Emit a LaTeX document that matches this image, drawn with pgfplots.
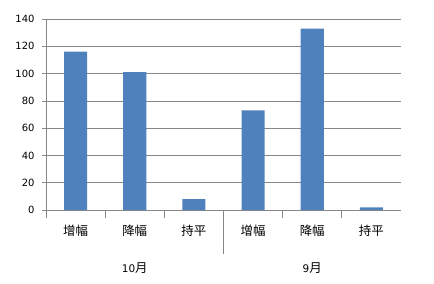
\documentclass[border=0pt]{standalone}
\usepackage{fontspec}
\setmainfont{DejaVu Sans}
\newfontfamily\cjk{Noto Sans CJK SC}
\usepackage{pgfplots}
\pgfplotsset{compat=1.18}
\definecolor{barblue}{HTML}{4F81BD}
\definecolor{gridgray}{HTML}{878787}
\begin{document}
\begin{tikzpicture}
\useasboundingbox (-46bp,-74bp) rectangle (388bp,210bp);
\begin{axis}[
  at={(0,0)}, anchor=south west,
  scale only axis, width=355bp, height=191bp,
  xmin=-0.5, xmax=5.5, ymin=0, ymax=140,
  clip=false,
  axis x line*=bottom, axis y line*=left,
  axis line style={gridgray, line width=0.7bp},
  ymajorgrids, grid style={gridgray, line width=0.7bp},
  ytick={0,20,...,140},
  y tick style={gridgray, line width=0.7bp},
  ytick align=outside, major tick length=4bp,
  /pgf/number format/assume math mode=true,
  yticklabel style={font=\fontsize{10}{12}\selectfont, xshift=-4bp},
  xtick={0,...,5},
  xticklabels={增幅,降幅,持平,增幅,降幅,持平},
  x tick style={draw=none},
  xticklabel style={font=\cjk\fontsize{12.5}{14}\selectfont, anchor=center, yshift=-21bp},
]
\addplot[ybar, fill=barblue, draw=none, bar width=0.39]
  coordinates {(0,116) (1,101) (2,8) (3,73) (4,133) (5,2)};
% category separators below the axis
\foreach \s in {-0.5,0.5,1.5,3.5,4.5}{
  \edef\tmp{\noexpand\draw[gridgray, line width=0.7bp] (axis cs:\s,0) -- ([yshift=-8bp]axis cs:\s,0);}
  \tmp
}
% month group separator
\draw[gridgray, line width=0.7bp] (axis cs:2.5,0) -- ([yshift=-44bp]axis cs:2.5,0);
% month labels
\node[font=\fontsize{10.5}{12}\selectfont] at ([yshift=-58bp]axis cs:1,0) {10{\cjk\fontsize{12.5}{14}\selectfont 月}};
\node[font=\fontsize{10.5}{12}\selectfont] at ([yshift=-58bp]axis cs:4,0) {9{\cjk\fontsize{12.5}{14}\selectfont 月}};
\end{axis}
\end{tikzpicture}
\end{document}
